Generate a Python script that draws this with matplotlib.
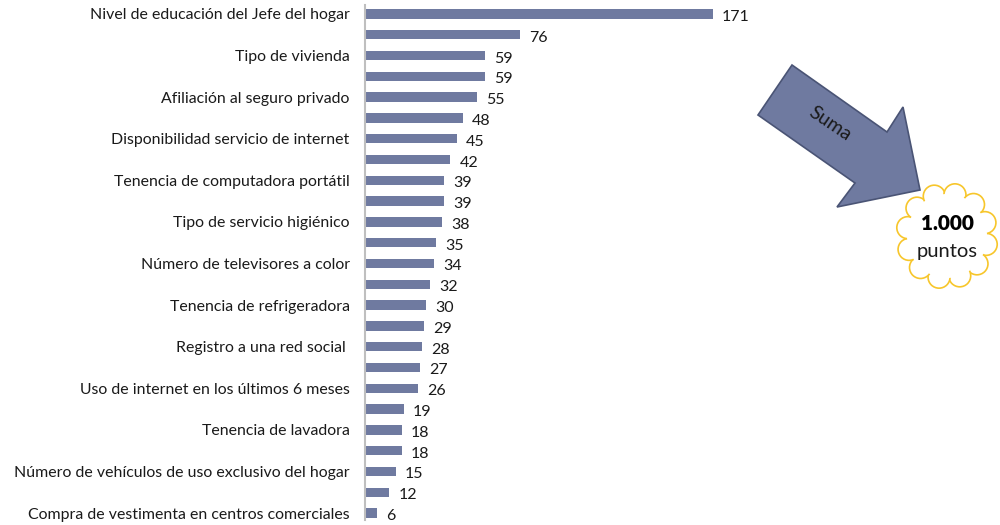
import numpy as np
import matplotlib
matplotlib.use('Agg')
import matplotlib.pyplot as plt
from matplotlib.patches import Polygon, Circle, Ellipse

plt.rcParams['font.family'] = ['Lato', 'DejaVu Sans']

# data (labels only shown on every other bar)
categorias = [
    'Nivel de educación del Jefe del hogar', '',
    'Tipo de vivienda', '',
    'Afiliación al seguro privado', '',
    'Disponibilidad servicio de internet', '',
    'Tenencia de computadora portátil', '',
    'Tipo de servicio higiénico', '',
    'Número de televisores a color', '',
    'Tenencia de refrigeradora', '',
    'Registro a una red social ', '',
    'Uso de internet en los últimos 6 meses', '',
    'Tenencia de lavadora', '',
    'Número de vehículos de uso exclusivo del hogar', '',
    'Compra de vestimenta en centros comerciales',
]
puntos = [171, 76, 59, 59, 55, 48, 45, 42, 39, 39, 38, 35, 34, 32, 30,
          29, 28, 27, 26, 19, 18, 18, 15, 12, 6]

bar_color = '#6F7AA0'
txt_color = '#1a1a1a'

fig = plt.figure(figsize=(10, 5.25), dpi=100)
ax = fig.add_axes([0.365, 0.0095, 0.635, 0.981])

y = np.arange(len(puntos))
ax.barh(y, puntos, height=0.45, color=bar_color)
ax.set_xlim(0, 635 / 2.035)
ax.set_ylim(24 + 7 / 20.8, -9 / 20.8)

ax.set_yticks(y)
ax.set_yticklabels(categorias, fontsize=11.4, color=txt_color)
ax.tick_params(axis='y', length=0, pad=11)
ax.set_xticks([])
for s in ['top', 'right', 'bottom']:
    ax.spines[s].set_visible(False)
ax.spines['left'].set_color('#bfbfbf')
ax.spines['left'].set_linewidth(1.5)

for yi, v in zip(y, puntos):
    ax.annotate(str(v), (v, yi), xytext=(9, -3), textcoords='offset pixels',
                ha='left', va='center', fontsize=11.5, color=txt_color)

# overlay in pixel coordinates for the arrow and the cloud
ov = fig.add_axes([0, 0, 1, 1])
ov.set_xlim(0, 1000)
ov.set_ylim(525, 0)
ov.axis('off')

flecha = [(792, 65), (887, 132), (903, 107), (920, 190), (837, 207),
          (855, 183), (758, 115)]
ov.add_patch(Polygon(flecha, closed=True, facecolor=bar_color,
                     edgecolor='#4a5475', linewidth=1.2))
ov.text(830, 124, 'Suma', rotation=-34, ha='center', va='center',
        fontsize=14, color=txt_color)

# cloud
cx, cy, rx, ry = 947, 236, 40, 42
angs = np.linspace(0, 2 * np.pi, 13)[:-1] + 0.2
for a in angs:
    ov.add_patch(Circle((cx + rx * np.cos(a), cy + ry * np.sin(a)), 11,
                        facecolor='white', edgecolor='#F7C62B', linewidth=1.2))
ov.add_patch(Ellipse((cx, cy), 2 * rx, 2 * ry, facecolor='white',
                     edgecolor='none'))
ov.text(cx, 224, '1.000', ha='center', va='center', fontsize=15,
        fontweight='heavy', color='black')
ov.text(cx, 252, 'puntos', ha='center', va='center', fontsize=14.5,
        color=txt_color)

fig.savefig('out.png', dpi=100)
